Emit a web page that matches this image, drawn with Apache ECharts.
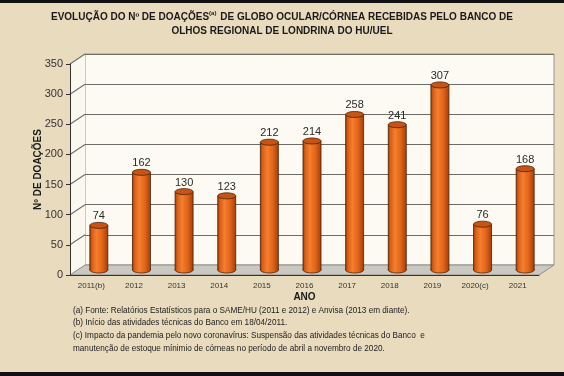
<!DOCTYPE html>
<html>
<head>
<meta charset="utf-8">
<script src="https://cdn.jsdelivr.net/npm/echarts@6/dist/echarts.min.js"></script>
<style>
  html, body { margin: 0; padding: 0; background: #e9dbbd; }
  #main { width: 564px; height: 376px; }
</style>
</head>
<body>
<div id="main"></div>
<script>
// dados
var anos = ['2011(b)', '2012', '2013', '2014', '2015', '2016', '2017', '2018', '2019', '2020(c)', '2021'];
var doacoes = [74, 162, 130, 123, 212, 214, 258, 241, 307, 76, 168];
var ticksY = [50, 100, 150, 200, 250, 300, 350];

var notas = [
  '(a) Fonte: Relatórios Estatísticos para o SAME/HU (2011 e 2012) e Anvisa (2013 em diante).',
  '(b) Início das atividades técnicas do Banco em 18/04/2011.',
  '(c) Impacto da pandemia pelo novo coronavírus: Suspensão das atividades técnicas do Banco  e',
  'manutenção de estoque mínimio de córneas no período de abril a novembro de 2020.'
];

// profundidade do "3D"
var DX = 15, DY = -10;
var FONT = '"Liberation Sans", Arial';

var chart = echarts.init(document.getElementById('main'));

function cylGrad() {
  return new echarts.graphic.LinearGradient(0, 0, 1, 0, [
    { offset: 0, color: '#9e3d08' },
    { offset: 0.12, color: '#d95e16' },
    { offset: 0.38, color: '#f57f2e' },
    { offset: 0.7, color: '#e0631a' },
    { offset: 1, color: '#a3400a' }
  ]);
}

// chao e parede lateral
function renderBase(params, api) {
  var cs = params.coordSys;
  var x0 = cs.x, x1 = cs.x + cs.width, yb = cs.y + cs.height, yt = cs.y;
  var kids = [
    { type: 'polygon', shape: { points: [[x0, yb], [x0, yt], [x0 + DX, yt + DY], [x0 + DX, yb + DY]] },
      style: { fill: '#fbf8f0' } },
    { type: 'polygon', shape: { points: [[x0, yb], [x1, yb], [x1 + DX, yb + DY], [x0 + DX, yb + DY]] },
      style: { fill: '#c9c8c2', stroke: '#8f8f88', lineWidth: 1 } }
  ];
  ticksY.forEach(function (v) {
    var y = api.coord([0, v])[1];
    kids.push({ type: 'line', shape: { x1: x0, y1: y, x2: x0 + DX, y2: y + DY },
      style: { stroke: '#6e6e68', lineWidth: 1.2 } });
  });
  return { type: 'group', children: kids };
}

function renderCyl(params, api) {
  var idx = api.value(0);
  var base = api.coord([idx, 0]);
  var top = api.coord([idx, api.value(1)]);
  var cx = base[0] + DX / 2, by = base[1] + DY / 2, ty = top[1] + DY / 2;
  var w = 18, rx = w / 2, ry = 3;
  return {
    type: 'group',
    children: [
      { type: 'ellipse', shape: { cx: cx, cy: by, rx: rx, ry: ry },
        style: { fill: cylGrad(), stroke: '#4a2206', lineWidth: 0.8 } },
      { type: 'rect', shape: { x: cx - rx, y: ty, width: w, height: by - ty },
        style: { fill: cylGrad() } },
      { type: 'line', shape: { x1: cx - rx, y1: ty, x2: cx - rx, y2: by },
        style: { stroke: '#4a2206', lineWidth: 0.8 } },
      { type: 'line', shape: { x1: cx + rx, y1: ty, x2: cx + rx, y2: by },
        style: { stroke: '#4a2206', lineWidth: 0.8 } },
      { type: 'ellipse', shape: { cx: cx, cy: ty, rx: rx, ry: ry },
        style: { fill: '#c75412', stroke: '#4a2206', lineWidth: 0.8 } },
      { type: 'text', x: cx, y: ty - 9,
        style: { text: String(api.value(1)), fill: '#2b2b2b', font: '11px ' + FONT,
          align: 'center', verticalAlign: 'middle' } }
    ]
  };
}

chart.setOption({
  backgroundColor: 'transparent',
  animation: false,
  grid: [
    { left: 70, right: 25, top: 64, bottom: 101 },
    { left: 85, right: 10, top: 54, bottom: 111, show: true, backgroundColor: '#fcfaf2', borderColor: '#9a9a92', borderWidth: 1, z: 0 }
  ],
  xAxis: [
    {
      type: 'category', gridIndex: 0, data: anos,
      name: 'ANO', nameLocation: 'middle', nameGap: 17, nameMoveOverlap: false,
      nameTextStyle: { fontFamily: FONT, fontWeight: 'bold', fontSize: 10, color: '#1a1a1a' },
      axisLine: { lineStyle: { color: '#333', width: 1 } },
      axisTick: { length: 4, lineStyle: { color: '#333' } },
      axisLabel: { fontFamily: FONT, fontSize: 8, color: '#333', margin: 7 },
      z: 5
    },
    { type: 'category', gridIndex: 1, data: anos, show: false }
  ],
  yAxis: [
    {
      type: 'value', gridIndex: 0, min: 0, max: 350, interval: 50,
      name: 'Nº DE DOAÇÕES', nameLocation: 'middle', nameGap: 27, nameRotate: 90, nameMoveOverlap: false,
      nameTextStyle: { fontFamily: FONT, fontWeight: 'bold', fontSize: 10, color: '#1a1a1a' },
      axisLine: { show: true, lineStyle: { color: '#333', width: 1 } },
      axisTick: { show: true, length: 4, lineStyle: { color: '#333' } },
      axisLabel: { fontFamily: FONT, fontSize: 11, color: '#333', margin: 7 },
      splitLine: { show: false },
      z: 5
    },
    {
      type: 'value', gridIndex: 1, min: 0, max: 350, interval: 50,
      axisLine: { show: false }, axisTick: { show: false }, axisLabel: { show: false },
      splitLine: { lineStyle: { color: '#6e6e68', width: 1.2 } }
    }
  ],
  series: [
    { type: 'custom', xAxisIndex: 0, yAxisIndex: 0, data: [[0, 0]], renderItem: renderBase, z: 1, silent: true },
    { type: 'custom', xAxisIndex: 0, yAxisIndex: 0, renderItem: renderCyl, z: 3,
      data: doacoes.map(function (v, i) { return [i, v]; }) }
  ],
  graphic: [
    { type: 'rect', x: 0, y: 0, z: -10, shape: { width: 564, height: 376 }, style: { fill: '#e9dbbd' } },
    { type: 'rect', x: 0, y: 0, shape: { width: 564, height: 3 }, style: { fill: '#111' } },
    { type: 'rect', x: 0, y: 372, shape: { width: 564, height: 4 }, style: { fill: '#111' } },
    { type: 'text', x: 282, y: 10,
      style: {
        text: '{b|EVOLUÇÃO DO Nº DE DOAÇÕES}{s|(a)}{b| DE GLOBO OCULAR/CÓRNEA RECEBIDAS PELO BANCO DE}\n{b|OLHOS REGIONAL DE LONDRINA DO HU/UEL}',
        align: 'center',
        rich: {
          b: { fontFamily: FONT, fontWeight: 'bold', fontSize: 10, fill: '#1a1a1a', lineHeight: 14 },
          s: { fontFamily: FONT, fontWeight: 'bold', fontSize: 6, fill: '#1a1a1a', lineHeight: 14, verticalAlign: 'top', padding: [0, 1, 6, 0] }
        }
      } },
    { type: 'text', x: 73, y: 304,
      style: { text: notas.join('\n'), fill: '#222', font: '8.2px ' + FONT, lineHeight: 12.7 } }
  ]
});
</script>
</body>
</html>
